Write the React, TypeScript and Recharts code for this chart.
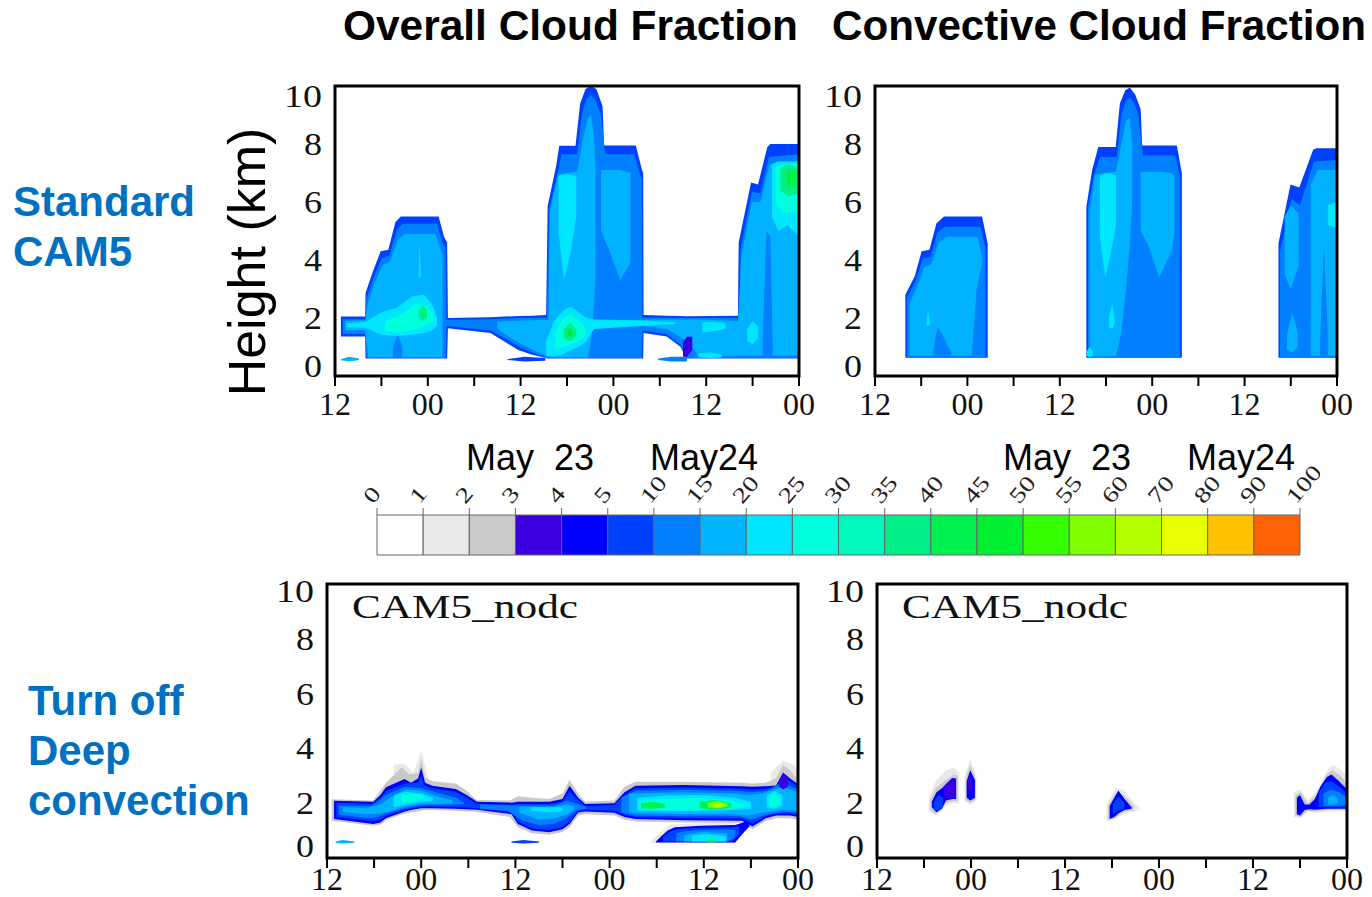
import React from 'react';
import { ComposedChart, Area, XAxis, YAxis, ReferenceArea, BarChart, Bar } from 'recharts';

// [hour since 12Z, bottom km, top km]
type Pt = [number, number, number];
type Layer = [number, Pt[]];

const serif = "'Liberation Serif', 'Times New Roman', serif";
const sans = "'Liberation Sans', Arial, sans-serif";

// contour levels (%) and their fill colours
const cbLevels = ['0', '1', '2', '3', '4', '5', '10', '15', '20', '25', '30', '35', '40', '45', '50', '55', '60', '70', '80', '90', '100'];
const cbColors = [
  '#ffffff', '#e9e9e9', '#c9c9c9', '#3c00e0', '#0000ff', '#0040ff', '#0080ff', '#00b2ff', '#00e6ff', '#00ffdc',
  '#00f8bc', '#00ee88', '#00f050', '#00ee30', '#33ff00', '#80ff00', '#b4ff00', '#e8ff00', '#ffc200', '#ff6200',
];

const hourTicks = [0, 6, 12, 18, 24, 30, 36, 42, 48, 54, 60];
const hourLabels = ['12', '', '00', '', '12', '', '00', '', '12', '', '00'];
const kmTicks = [0, 2, 4, 6, 8, 10];

// ---- Standard CAM5, overall cloud fraction ----
const tlOuter: Pt[] = [[0.76,1.36,2.05],[3.9,1.36,2.05],[3.95,0.6,2.86],[4.9,0.6,3.6],[5.9,0.6,4.3],[6.9,0.6,4.35],[7.8,0.6,5.3],[8.5,0.6,5.5],[13.4,0.6,5.5],[14.1,0.6,4.8],[14.5,0.6,4.6],[14.6,1.65,2.0],[20.1,1.48,2.03],[21.9,1.19,2.05],[23.7,0.9,2.07],[25.5,0.73,2.08],[27.3,0.62,2.1],[27.5,0.6,5.86],[28.6,0.6,7.25],[29.0,0.6,7.94],[31.1,0.6,7.94],[31.7,0.6,9.4],[32.4,0.6,9.9],[33.1,0.6,10],[33.8,0.6,9.9],[34.6,0.6,9.3],[34.8,0.6,7.95],[38.9,0.6,7.95],[39.7,0.6,7.1],[39.85,0.6,7.0],[39.9,1.48,2.1],[42.9,1.36,2.08],[44.7,1.0,2.07],[45.4,0.6,2.06],[52.1,0.6,2.08],[52.2,0.6,4.6],[53.8,0.6,6.67],[54.7,0.6,6.6],[55.9,0.6,7.9],[56.3,0.6,8.0],[60,0.6,8.0]];
const tlSliverA: Pt[] = [[0.76,0.54,0.58],[1.8,0.5,0.66],[3.1,0.55,0.6]];
const tlSliverB: Pt[] = [[22.3,0.55,0.58],[24.5,0.5,0.66],[27.2,0.53,0.62]];
const tlSliverC: Pt[] = [[41.8,0.55,0.6],[43.5,0.5,0.66],[45.5,0.5,0.66]];
const tl10: Pt[] = [[1.0,1.45,1.96],[3.9,1.45,1.96],[4.1,0.62,2.7],[5.0,0.62,3.4],[6.0,0.62,4.05],[7.0,0.62,4.15],[8.0,0.62,5.05],[8.8,0.62,5.25],[13.2,0.62,5.25],[13.9,0.62,4.6],[14.3,0.62,4.4],[14.4,1.72,1.94],[20,1.58,1.96],[22,1.3,1.98],[24,0.97,2.0],[26,0.76,2.01],[27.4,0.64,2.02],[27.7,0.62,5.75],[28.8,0.62,7.0],[29.3,0.62,7.65],[31.3,0.62,7.65],[31.9,0.62,9.0],[32.5,0.62,9.55],[33.1,0.62,9.7],[33.7,0.62,9.5],[34.4,0.62,9.0],[34.95,0.62,7.65],[38.7,0.62,7.65],[39.5,0.62,6.9],[39.7,0.62,6.8],[39.75,1.58,2.02],[42.8,1.45,2.01],[44.6,1.1,2.0],[45.6,0.62,2.0],[52.3,0.62,2.0],[52.4,0.62,4.3],[53.9,0.62,6.35],[55.0,0.62,6.3],[56.1,0.62,7.55],[60,0.62,7.65]];
const tl15a: Pt[] = [[1.3,1.58,1.9],[3.9,1.58,1.92],[4.3,0.65,2.55],[5.1,0.65,3.2],[6.1,0.65,3.8],[7.1,0.65,3.95],[8.1,0.65,4.7],[9.0,0.65,4.9],[13.0,0.65,4.9],[13.6,0.65,4.4],[13.9,0.65,4.2]];
const tl15b: Pt[] = [[21,1.63,1.87],[23,1.27,1.9],[25,0.97,1.92],[27.6,0.66,1.93],[27.8,0.64,5.7],[28.8,0.64,6.95],[31.3,0.64,7.05],[32.1,0.64,8.2],[32.7,0.64,8.9],[33.1,1.2,9.0],[33.5,2.5,8.2],[33.7,3.5,7.0]];
const tl15c: Pt[] = [[34.4,5.0,7.1],[35.5,4.3,7.1],[36.9,3.3,7.1],[38.2,3.9,7.0]];
const tl15d: Pt[] = [[40.0,1.72,1.95],[43,1.62,1.95],[45.5,1.2,1.95],[47,0.7,1.95],[52.1,0.7,1.9],[52.6,0.7,4.2],[53.9,0.7,6.0],[55.0,0.7,6.0],[56.2,0.7,7.3],[60,0.7,7.4]];
const tlStripeA: Pt[] = [[7.5,0.65,1.0],[8.1,0.65,1.45],[8.7,0.65,1.0]];
const tlStripeB: Pt[] = [[55.3,0.7,1.2],[55.8,0.7,5.0],[56.3,0.7,4.8],[56.6,0.7,1.0]];
const tlLens: Pt[] = [[45.0,0.66,1.15],[45.5,0.66,1.35],[46.2,0.9,1.35]];
const tlCyLeft: Pt[] = [[1.5,1.68,1.82],[3.9,1.66,1.86],[6,1.42,2.2],[8,1.38,2.35],[10,1.42,2.75],[11.5,1.47,2.8],[12.5,1.57,2.5],[13.2,1.72,2.0]];
const tlCySpike: Pt[] = [[10.8,3.45,3.5],[10.95,3.35,4.6],[11.1,3.45,3.5]];
const tlCyT2: Pt[] = [[28.9,5.0,6.9],[29.6,3.3,6.95],[30.5,4.3,6.95],[31.2,5.5,6.9]];
const tlCyLow: Pt[] = [[27.3,0.7,1.2],[28.3,0.68,1.9],[29.5,0.75,2.25],[30.5,0.9,2.4],[31.5,1.0,2.2],[32.5,1.2,2.0],[33.5,1.62,1.95],[37,1.68,1.93],[39.5,1.72,1.92],[42,1.76,1.88],[44,1.79,1.85]];
const tlCyT3a: Pt[] = [[53.3,1.2,1.6],[54.0,1.1,1.9],[54.7,1.3,1.7]];
const tlCyT3b: Pt[] = [[56.5,5.5,7.3],[57.3,5.0,7.4],[58.5,5.2,7.4],[60,4.8,7.4]];
const tlCyBot: Pt[] = [[47.0,0.64,0.78],[48.5,0.62,0.82],[50.0,0.64,0.74]];
const tlCyMid: Pt[] = [[47.5,1.5,1.85],[49,1.55,1.88],[50.5,1.62,1.82]];
const tlAqA: Pt[] = [[6.5,1.55,1.9],[8.5,1.5,2.1],[10.5,1.6,2.5],[12.0,1.75,2.4],[12.7,1.9,2.1]];
const tlAqB: Pt[] = [[28.5,0.92,1.5],[29.5,1.0,2.0],[30.5,1.1,2.1],[31.5,1.2,1.9],[32.3,1.4,1.7]];
const tlAqC: Pt[] = [[57.0,6.0,7.2],[58.0,5.6,7.3],[60,5.7,7.3]];
const tlGrA: Pt[] = [[10.8,2.0,2.25],[11.3,1.9,2.45],[11.9,2.0,2.3]];
const tlGrB: Pt[] = [[29.6,1.3,1.6],[30.4,1.2,1.85],[31.2,1.4,1.6]];
const tlGrC: Pt[] = [[57.6,6.4,7.2],[58.6,6.2,7.3],[60,6.3,7.2]];
const tlCoreB: Pt[] = [[30.1,1.4,1.55],[30.4,1.35,1.65],[30.7,1.42,1.55]];
const tlCoreC: Pt[] = [[58.2,6.6,7.05],[59.2,6.5,7.1],[60,6.55,7.0]];

const stdOverall: Layer[] = [
  [5, tlOuter], [5, tlSliverB], [6, tlSliverC], [7, tlSliverA], [6, tl10],
  [7, tl15a], [7, tl15b], [7, tl15c], [7, tl15d], [6, tlStripeA], [6, tlStripeB], [3, tlLens],
  [8, tlCyLeft], [8, tlCySpike], [8, tlCyT2], [8, tlCyLow], [8, tlCyT3a], [8, tlCyT3b], [8, tlCyBot], [8, tlCyMid],
  [9, tlAqA], [9, tlAqB], [9, tlAqC], [11, tlGrA], [11, tlGrB], [11, tlGrC], [13, tlCoreB], [12, tlCoreC],
];

// ---- Standard CAM5, convective cloud fraction ----
const trT1o: Pt[] = [[3.94,0.63,2.8],[5.15,0.63,3.43],[6.05,0.63,4.3],[7.07,0.63,4.35],[7.97,0.63,5.26],[8.96,0.63,5.5],[13.9,0.63,5.5],[14.64,0.63,4.56]];
const trT2o: Pt[] = [[27.45,0.63,5.84],[28.2,0.63,7.1],[29.0,0.63,7.9],[31.26,0.63,7.9],[31.8,0.63,9.4],[32.5,0.63,9.85],[33.1,0.63,9.95],[33.8,0.63,9.7],[34.5,0.63,9.2],[34.7,0.63,7.95],[39.2,0.63,7.95],[39.85,0.63,7.0]];
const trT3o: Pt[] = [[52.4,0.63,4.58],[53.96,0.63,6.6],[55.1,0.63,6.5],[56.9,0.63,7.8],[57.3,0.63,7.85],[60,0.63,7.85]];
const trT1a: Pt[] = [[4.15,0.65,2.7],[5.3,0.65,3.3],[6.2,0.65,4.05],[7.2,0.65,4.1],[8.1,0.65,4.95],[9.1,0.65,5.15],[13.7,0.65,5.15],[14.35,0.65,4.4]];
const trT2a: Pt[] = [[27.65,0.65,5.8],[28.4,0.65,6.9],[29.2,0.65,7.55],[31.4,0.65,7.55],[32.0,0.65,9.0],[32.6,0.65,9.5],[33.1,0.65,9.6],[33.7,0.65,9.4],[34.2,0.65,9.0],[34.8,0.65,7.6],[39.0,0.65,7.6],[39.6,0.65,6.9]];
const trT3a: Pt[] = [[52.6,0.65,4.3],[54.1,0.65,6.1],[55.2,0.65,5.9],[57.0,0.65,7.4],[60,0.65,7.45]];
const trT1b: Pt[] = [[4.5,0.7,2.5],[5.5,0.7,3.1],[6.4,0.7,3.75],[7.3,0.7,3.85],[8.3,0.7,4.6],[9.3,0.7,4.8],[13.3,0.7,4.8],[13.9,0.7,4.1]];
const trT2b: Pt[] = [[27.9,0.68,5.7],[28.6,0.68,6.95],[31.3,0.68,7.05],[32.0,1.5,8.0],[32.6,3.0,8.8],[33.1,4.5,8.9],[33.4,6.0,8.0]];
const trT2c: Pt[] = [[34.5,5.0,7.04],[35.5,4.5,7.04],[36.9,3.4,7.04],[38.5,4.3,7.0],[38.9,5.0,6.9]];
const trT3b: Pt[] = [[53.2,3.5,5.5],[54.0,3.0,5.9],[55.0,3.8,5.6]];
const trT3c: Pt[] = [[56.6,0.7,6.6],[57.5,0.7,7.1],[60,0.7,7.1]];
const trT3d: Pt[] = [[53.5,0.9,1.4],[54.2,0.8,2.2],[54.9,1.0,1.5]];
const trStripeA: Pt[] = [[7.6,0.7,0.9],[8.1,0.7,1.7],[8.6,0.7,1.5],[9.9,0.7,0.8]];
const trStripeB: Pt[] = [[12.6,0.7,0.8],[13.2,0.7,3.0],[13.9,0.7,3.9]];
const trStripeC: Pt[] = [[57.8,0.7,1.2],[58.3,0.7,4.5],[58.8,0.7,1.5]];
const trCyA: Pt[] = [[6.7,1.7,1.9],[6.9,1.75,2.3],[7.1,1.75,1.85]];
const trCyB: Pt[] = [[29.2,4.8,6.9],[29.9,3.4,6.98],[30.6,4.2,6.98],[31.3,5.2,6.9]];
const trCyC: Pt[] = [[30.4,1.7,2.0],[30.8,1.6,2.5],[31.1,1.8,2.0]];
const trCyD: Pt[] = [[27.5,0.7,0.85],[27.9,0.64,1.0],[28.3,0.7,0.85]];
const trCyE: Pt[] = [[58.8,5.2,5.9],[60,5.1,6.0]];

const stdConv: Layer[] = [
  [5, trT1o], [5, trT2o], [5, trT3o], [6, trT1a], [6, trT2a], [6, trT3a],
  [7, trT1b], [7, trT2b], [7, trT2c], [7, trT3b], [7, trT3c], [7, trT3d],
  [6, trStripeA], [6, trStripeB], [6, trStripeC],
  [8, trCyA], [8, trCyB], [8, trCyC], [8, trCyD], [8, trCyE],
];

// ---- CAM5_nodc, overall cloud fraction ----
const blHaloSpikeA: Pt[] = [[8.5,2.5,3.4],[9.8,2.6,3.45],[11.0,2.7,3.1],[12.0,2.9,3.9],[13,2.6,2.9]];
const blHaloSpikeB: Pt[] = [[56.5,2.6,3.1],[58.1,2.8,3.55],[59.5,2.7,3.4],[60,2.6,3.2]];
const blHalo: Pt[] = [[0.6,1.36,2.14],[5.9,1.18,2.1],[6.8,1.22,2.45],[7.5,1.38,2.75],[9.5,1.6,3.3],[10.5,1.65,3.05],[11.6,1.7,3.1],[12.0,1.72,3.6],[12.5,1.75,2.95],[13.4,1.75,2.8],[16.4,1.72,2.72],[17.8,1.7,2.45],[19.1,1.68,2.12],[23.3,1.5,2.1],[24.3,1.12,2.25],[26.1,0.9,2.2],[28.3,0.85,2.15],[30.0,0.95,2.35],[30.9,1.12,2.85],[32.0,1.55,2.35],[32.9,1.6,2.05],[36.6,1.55,2.1],[37.9,1.4,2.6],[39.3,1.33,2.78],[45.4,1.3,2.78],[52.9,1.28,2.75],[54.2,1.05,2.72],[55.9,1.35,2.75],[57.2,1.45,2.9],[58.1,1.45,3.4],[59.0,1.45,3.2],[60,1.4,2.85]];
const blHaloLow: Pt[] = [[41.3,0.55,0.65],[42.8,0.55,1.0],[43.8,0.55,1.22],[47.6,0.55,1.28],[52,0.55,1.28]];
const blBand: Pt[] = [[0.9,1.42,2.09],[5.9,1.24,2.05],[6.8,1.3,2.3],[7.5,1.45,2.58],[9.9,1.7,2.88],[10.7,1.75,2.75],[11.6,1.8,2.9],[12.0,1.82,3.3],[12.5,1.82,2.75],[13.4,1.82,2.64],[16.4,1.8,2.52],[17.8,1.78,2.3],[19.1,1.76,2.05],[23.5,1.6,2.02],[24.3,1.24,2.05],[26.1,1.0,2.05],[28.3,0.94,2.05],[30.0,1.05,2.15],[30.9,1.24,2.64],[32.0,1.66,2.2],[32.9,1.7,1.97],[36.6,1.65,2.0],[37.9,1.5,2.4],[39.3,1.42,2.64],[45.4,1.38,2.66],[52.9,1.36,2.62],[54.2,1.15,2.6],[55.9,1.45,2.62],[57.2,1.55,2.65],[58.1,1.55,3.12],[59.0,1.55,2.9],[60,1.5,2.7]];
const blLow4: Pt[] = [[41.9,0.57,0.6],[42.6,0.57,0.8],[43.4,0.57,1.0],[44.3,0.57,1.12],[47.6,0.57,1.18],[52.0,0.57,1.2],[53,0.9,1.3],[53.8,1.15,1.4]];
const blSliverA: Pt[] = [[1.1,0.56,0.6],[2,0.53,0.66],[3.5,0.56,0.6]];
const blSliverB: Pt[] = [[23.5,0.56,0.6],[25,0.53,0.66],[27,0.56,0.6]];
const bl5: Pt[] = [[1.2,1.5,2.02],[5.8,1.35,1.98],[6.8,1.4,2.2],[7.6,1.55,2.45],[9.9,1.76,2.72],[11.6,1.85,2.75],[12.0,1.87,3.0],[12.4,1.87,2.65],[13.4,1.88,2.55],[16.4,1.86,2.42],[17.8,1.84,2.2],[19.1,1.82,1.98],[23.5,1.68,1.95],[24.3,1.33,1.97],[26.1,1.08,1.97],[28.3,1.02,1.97],[30.0,1.12,2.05],[30.9,1.32,2.45],[32.0,1.72,2.12],[32.9,1.76,1.9],[36.6,1.72,1.93],[37.9,1.58,2.3],[39.3,1.5,2.55],[45.4,1.46,2.57],[52.9,1.44,2.53],[54.2,1.25,2.5],[55.9,1.52,2.53],[57.2,1.62,2.56],[58.1,1.62,2.95],[59.0,1.62,2.8],[60,1.58,2.6]];
const blLow5: Pt[] = [[42.8,0.6,0.78],[43.6,0.6,0.95],[44.5,0.6,1.05],[47.6,0.6,1.1],[51.5,0.6,1.12],[52.5,0.85,1.15]];
const bl10a: Pt[] = [[1.5,1.58,1.92],[5.5,1.45,1.9],[6.5,1.5,2.05],[7.5,1.62,2.3],[9.9,1.82,2.6],[12,1.92,2.55],[14.5,1.93,2.35],[16.5,1.95,2.2],[17.5,1.97,2.0]];
const bl10b: Pt[] = [[19.5,1.8,1.95],[23,1.72,1.92],[25,1.35,1.92],[27,1.2,1.92],[29,1.25,1.92],[30.5,1.45,2.1],[31.8,1.75,1.98],[33,1.8,1.88]];
const bl10c: Pt[] = [[37.5,1.65,2.2],[39.3,1.55,2.45],[45.4,1.52,2.48],[52.5,1.52,2.45],[54.0,1.4,2.4],[55.9,1.58,2.45],[58,1.68,2.75],[60,1.65,2.5]];
const blLow10: Pt[] = [[44.5,0.6,0.9],[45.5,0.6,0.98],[47.6,0.6,1.02],[51,0.6,1.05],[52,0.75,1.0]];
const bl15a: Pt[] = [[2,1.68,1.85],[5,1.6,1.82],[6.8,1.62,1.95],[8,1.7,2.2],[10,1.88,2.5],[12,1.97,2.45],[14,1.98,2.25],[16,2.0,2.1]];
const bl15b: Pt[] = [[24.5,1.65,1.88],[27,1.4,1.86],[29,1.45,1.88],[30.6,1.6,1.95],[31.5,1.75,1.9]];
const bl15c: Pt[] = [[38.5,1.65,2.35],[45,1.6,2.4],[52,1.6,2.35],[53.5,1.55,2.3],[55.5,1.65,2.35],[58,1.75,2.6],[60,1.72,2.4]];
const blLow15: Pt[] = [[45.5,0.6,0.82],[46.5,0.6,0.9],[48,0.6,0.95],[51,0.6,0.9]];
const bl20a: Pt[] = [[8.5,1.85,2.3],[10,1.95,2.42],[12,2.05,2.35],[13.5,2.08,2.2]];
const bl20b: Pt[] = [[26,1.72,1.85],[28,1.68,1.84],[30,1.7,1.84]];
const bl20c: Pt[] = [[39.5,1.72,2.2],[43,1.7,2.28],[48,1.72,2.3],[52,1.75,2.2],[54,1.8,2.05]];
const bl20d: Pt[] = [[56,1.85,2.3],[57,1.8,2.45],[58,1.9,2.3]];
const blLow20: Pt[] = [[46.5,0.6,0.82],[48.5,0.6,0.88],[50.8,0.6,0.8]];
const bl25a: Pt[] = [[9.5,2.02,2.3],[11,2.08,2.35],[12.3,2.15,2.28]];
const bl25b: Pt[] = [[39.8,1.78,2.1],[43,1.75,2.15],[47,1.78,2.2],[51.5,1.8,2.1],[53,1.85,1.95]];
const bl25c: Pt[] = [[56.3,1.9,2.2],[57,1.85,2.35],[57.6,1.95,2.2]];
const blGreenA: Pt[] = [[40,1.82,2.0],[41.5,1.8,2.05],[43,1.83,1.98]];
const blGreenB: Pt[] = [[47.5,1.82,2.05],[49.5,1.78,2.12],[51.5,1.84,2.0]];
const blLime: Pt[] = [[48.5,1.85,2.02],[49.8,1.82,2.08],[51,1.87,1.98]];
const blYellow: Pt[] = [[49.3,1.88,1.98],[49.9,1.86,2.02],[50.5,1.9,1.96]];
const blLowDot: Pt[] = [[48.3,0.58,0.65],[48.9,0.57,0.7],[49.5,0.58,0.65]];
const blSpikeTop: Pt[] = [[57.6,2.6,2.8],[58.1,2.5,3.1],[58.7,2.6,2.9]];

const nodcOverall: Layer[] = [
  [1, blHaloSpikeA], [1, blHaloSpikeB], [2, blHalo], [1, blHaloLow],
  [4, blBand], [4, blLow4], [7, blSliverA], [5, blSliverB],
  [5, bl5], [5, blLow5], [6, bl10a], [6, bl10b], [6, bl10c], [6, blLow10],
  [7, bl15a], [7, bl15b], [7, bl15c], [7, blLow15],
  [8, bl20a], [8, bl20b], [8, bl20c], [8, bl20d], [8, blLow20],
  [9, bl25a], [9, bl25b], [9, bl25c], [12, blGreenA], [12, blGreenB], [15, blLime], [16, blYellow], [12, blLowDot], [3, blSpikeTop],
];

// ---- CAM5_nodc, convective cloud fraction ----
const brHalo1: Pt[][] = [
  [[6.6,1.7,2.2],[7.5,1.55,2.8],[8.8,1.9,3.2],[9.8,2.0,3.3],[10.5,2.0,3.1]],
  [[11.2,2.05,3.0],[11.9,1.95,3.6],[12.7,2.1,3.0]],
  [[29.3,1.35,1.95],[30.5,1.45,2.55],[31.5,1.6,2.5],[33,1.7,1.95],[33.6,1.78,1.82]],
  [[53.2,1.5,2.4],[54,1.45,2.5],[55,1.7,2.1],[56,1.65,2.4],[57.5,1.7,3.2],[58.2,1.7,3.4],[59.3,1.72,3.2],[60,1.72,3.0]],
];
const brHalo2: Pt[][] = [
  [[6.8,1.75,2.12],[7.5,1.6,2.55],[8.8,2.0,2.85],[9.8,2.08,3.05],[10.3,2.08,3.0]],
  [[11.3,2.12,2.9],[11.9,2.02,3.4],[12.6,2.15,2.9]],
  [[29.5,1.38,1.92],[30.4,1.47,2.35],[31.5,1.68,2.3],[32.8,1.75,1.9]],
  [[53.4,1.55,2.3],[54.1,1.5,2.4],[55,1.72,2.0],[56,1.7,2.3],[57.4,1.75,3.05],[58.1,1.75,3.2],[59.2,1.76,3.0],[60,1.76,2.7]],
];
const brBlobA: Pt[] = [[7.0,1.85,2.05],[7.6,1.67,2.4],[8.3,1.8,2.55],[8.8,2.1,2.7],[9.6,2.15,2.92],[10.1,2.15,2.9]];
const brBlobAUpper: Pt[] = [[8.6,2.15,2.6],[9.3,2.2,2.8],[10.0,2.2,2.85]];
const brBlobALower: Pt[] = [[7.2,1.8,2.0],[7.8,1.72,2.3],[8.4,1.85,2.2]];
const brBlobB: Pt[] = [[11.45,2.2,2.8],[11.9,2.1,3.2],[12.5,2.2,2.85]];
const brBlobBCore: Pt[] = [[11.6,2.5,2.8],[11.9,2.4,3.0],[12.2,2.5,2.7]];
const brBlobC: Pt[] = [[29.7,1.42,1.9],[30.3,1.5,2.2],[30.8,1.62,2.46],[31.6,1.75,2.15],[32.5,1.8,1.85]];
const brBlobCCore: Pt[] = [[30.1,1.6,1.95],[30.8,1.72,2.25],[31.6,1.8,2.0]];
const brBlobD: Pt[] = [[53.6,1.6,2.2],[54.0,1.55,2.3],[54.6,1.75,1.95],[55.2,1.78,1.95],[55.9,1.76,2.15],[56.6,1.78,2.6],[57.4,1.8,2.95],[58.0,1.8,3.05],[59.0,1.8,2.8],[60,1.8,2.5]];
const brBlobD5: Pt[] = [[56.4,1.85,2.4],[57.2,1.85,2.75],[58.0,1.85,2.8],[59,1.85,2.6],[60,1.85,2.35]];
const brBlobD10: Pt[] = [[57,1.9,2.35],[58,1.9,2.5],[59,1.9,2.4],[60,1.95,2.2]];
const brBlobD15: Pt[] = [[57.6,1.95,2.2],[58.2,1.95,2.3],[58.8,2.0,2.15]];

const nodcConv: Layer[] = [
  ...brHalo1.map((p): Layer => [1, p]), ...brHalo2.map((p): Layer => [2, p]),
  [4, brBlobA], [3, brBlobAUpper], [5, brBlobALower], [4, brBlobB], [3, brBlobBCore],
  [4, brBlobC], [5, brBlobCCore], [4, brBlobD], [5, brBlobD5], [6, brBlobD10], [7, brBlobD15],
];

const makeHourTick = (dy: number) => (props: any) => {
  const { x, y, payload } = props;
  const label = hourLabels[hourTicks.indexOf(payload.value)];
  if (!label) return <g />;
  return (
    <text x={x} y={y + dy} textAnchor="middle" dominantBaseline="central" fontFamily={serif} fontSize={32} fill="#111">
      {label}
    </text>
  );
};

const makeKmTick = (dTop: number, dBottom: number) => (props: any) => {
  const { x, y, payload } = props;
  const v = payload.value as number;
  const dy = v === 10 ? dTop : v === 0 ? dBottom : 0;
  const s = String(v);
  return (
    <text x={x} y={y + dy} textAnchor="end" dominantBaseline="central" fontFamily={serif} fontSize={32} fill="#111"
      textLength={s.length === 1 ? 18 : 38} lengthAdjust="spacingAndGlyphs">
      {s}
    </text>
  );
};

type PanelProps = { x: number; y: number; w: number; h: number; layers: Layer[]; dTop: number; dBottom: number; dLabel: number };

const Panel = ({ x, y, w, h, layers, dTop, dBottom, dLabel }: PanelProps) => {
  const padL = 70, padT = 15, padR = 30, padB = 45;
  return (
    <div style={{ position: 'absolute', left: x - padL, top: y - padT }}>
      <ComposedChart width={w + padL + padR} height={h + padT + padB} margin={{ top: padT, right: padR, bottom: 0, left: 0 }}>
        <XAxis dataKey="x" type="number" domain={[0, 60]} ticks={hourTicks} allowDataOverflow height={padB}
          axisLine={false} tickSize={10} tickMargin={4} tickLine={{ stroke: '#000', strokeWidth: 2 }} tick={makeHourTick(dLabel)} />
        <XAxis xAxisId="top" orientation="top" mirror height={0} dataKey="x" type="number" domain={[0, 60]} ticks={[30]}
          axisLine={false} tick={false} tickSize={5} tickLine={{ stroke: '#000', strokeWidth: 5 }} />
        <XAxis xAxisId="bot" orientation="bottom" mirror height={0} dataKey="x" type="number" domain={[0, 60]} ticks={[30]}
          axisLine={false} tick={false} tickSize={5} tickLine={{ stroke: '#000', strokeWidth: 5 }} />
        <YAxis type="number" domain={[0, 10]} ticks={kmTicks} allowDataOverflow width={padL}
          axisLine={false} tickLine={false} tickSize={0} tickMargin={13} tick={makeKmTick(dTop, dBottom)} />
        <YAxis yAxisId="l" orientation="left" mirror width={0} type="number" domain={[0, 10]} ticks={kmTicks}
          axisLine={false} tick={false} tickSize={14} tickLine={{ stroke: '#000', strokeWidth: 3 }} />
        <YAxis yAxisId="r" orientation="right" mirror width={0} type="number" domain={[0, 10]} ticks={kmTicks}
          axisLine={false} tick={false} tickSize={14} tickLine={{ stroke: '#000', strokeWidth: 3 }} />
        {layers.map(([c, pts], i) => (
          <Area key={i} data={pts.map(([hr, lo, hi]) => ({ x: hr, r: [lo, hi] }))} dataKey="r" type="linear"
            fill={cbColors[c]} fillOpacity={1} stroke="none" dot={false} activeDot={false} isAnimationActive={false} />
        ))}
        <ReferenceArea x1={0} x2={60} y1={0} y2={10} fill="none" stroke="#000" strokeWidth={3} ifOverflow="visible" />
      </ComposedChart>
    </div>
  );
};

const LevelTick = (props: any) => {
  const { x, y, payload } = props;
  const label = cbLevels[payload.value];
  const sx = x - 4;
  return (
    <text x={sx} y={y} transform={`rotate(-50 ${sx} ${y})`} fontFamily={serif} fontSize={22} fill="#222"
      textLength={label.length * 14} lengthAdjust="spacingAndGlyphs">
      {label}
    </text>
  );
};

const Colorbar = () => {
  const row = [{ name: 'cb', ...Object.fromEntries(cbColors.map((_, i) => [`c${i}`, 1])) }];
  return (
    <div style={{ position: 'absolute', left: 357, top: 455 }}>
      <BarChart width={963} height={115} data={row} layout="vertical" barCategoryGap={0}
        margin={{ top: 0, right: 20, bottom: 15, left: 20 }}>
        <XAxis type="number" orientation="top" domain={[0, 20]} ticks={cbLevels.map((_, i) => i)} height={60}
          axisLine={false} tickSize={7} tickMargin={3} tickLine={{ stroke: '#666' }} tick={LevelTick} />
        <YAxis type="category" dataKey="name" hide />
        {cbColors.map((c, i) => (
          <Bar key={i} dataKey={`c${i}`} stackId="cb" fill={c} stroke="#666" strokeWidth={1} isAnimationActive={false} />
        ))}
      </BarChart>
    </div>
  );
};

const blue = '#0070c0';

export default function App() {
  return (
    <div style={{ position: 'absolute', left: 0, top: 0, width: 1372, height: 897, background: '#fff', overflow: 'hidden' }}>
      <svg width={1372} height={897} style={{ position: 'absolute', left: 0, top: 0 }}>
        <text x={343} y={40} fontFamily={sans} fontWeight="bold" fontSize={42} textLength={455} lengthAdjust="spacingAndGlyphs">Overall Cloud Fraction</text>
        <text x={832} y={40} fontFamily={sans} fontWeight="bold" fontSize={42} textLength={534} lengthAdjust="spacingAndGlyphs">Convective Cloud Fraction</text>
        <text x={13} y={216} fontFamily={sans} fontWeight="bold" fontSize={42} fill={blue}>Standard</text>
        <text x={13} y={266} fontFamily={sans} fontWeight="bold" fontSize={42} fill={blue}>CAM5</text>
        <text x={28} y={715} fontFamily={sans} fontWeight="bold" fontSize={42} fill={blue}>Turn off</text>
        <text x={28} y={765} fontFamily={sans} fontWeight="bold" fontSize={42} fill={blue}>Deep</text>
        <text x={28} y={815} fontFamily={sans} fontWeight="bold" fontSize={42} fill={blue}>convection</text>
        <text transform="translate(265 262) rotate(-90)" textAnchor="middle" fontFamily={sans} fontSize={52}>Height (km)</text>
        <text x={466} y={470} fontFamily={sans} fontSize={36} style={{ whiteSpace: 'pre' }}>May  23</text>
        <text x={650} y={470} fontFamily={sans} fontSize={36}>May24</text>
        <text x={1003} y={470} fontFamily={sans} fontSize={36} style={{ whiteSpace: 'pre' }}>May  23</text>
        <text x={1187} y={470} fontFamily={sans} fontSize={36}>May24</text>
        <text x={352} y={618} fontFamily={serif} fontSize={33} fill="#111" textLength={226} lengthAdjust="spacingAndGlyphs">CAM5_nodc</text>
        <text x={902} y={618} fontFamily={serif} fontSize={33} fill="#111" textLength={226} lengthAdjust="spacingAndGlyphs">CAM5_nodc</text>
      </svg>
      <Panel x={335} y={86} w={464} h={290} layers={stdOverall} dTop={10} dBottom={-10} dLabel={14} />
      <Panel x={875} y={86} w={462} h={290} layers={stdConv} dTop={10} dBottom={-10} dLabel={14} />
      <Panel x={327} y={584} w={471} h={274} layers={nodcOverall} dTop={7} dBottom={-12} dLabel={7} />
      <Panel x={877} y={584} w={470} h={274} layers={nodcConv} dTop={7} dBottom={-12} dLabel={7} />
      <Colorbar />
    </div>
  );
}
